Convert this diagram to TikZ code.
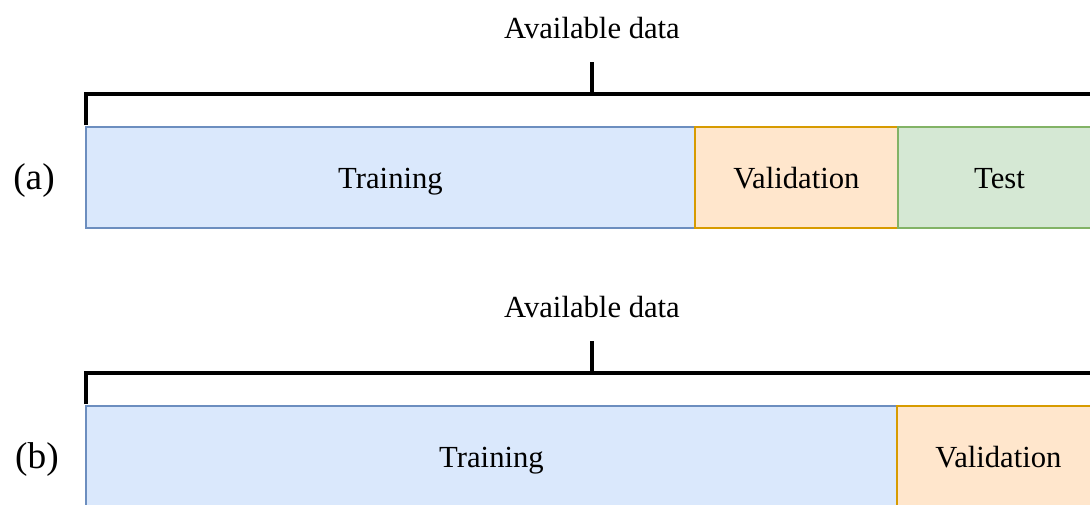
\documentclass[tikz,border=0pt]{standalone}
\usepackage{fontspec}
\setmainfont{Liberation Serif}
\definecolor{bluefill}{HTML}{DAE8FC}
\definecolor{bluedraw}{HTML}{6C8EBF}
\definecolor{orangefill}{HTML}{FFE6CC}
\definecolor{orangedraw}{HTML}{D79B00}
\definecolor{greenfill}{HTML}{D5E8D4}
\definecolor{greendraw}{HTML}{82B366}
\tikzset{
  part/.style={draw, line width=1.5pt, minimum height=75.75pt, inner sep=0pt,
    text height=16pt, text depth=0pt, font=\fontsize{23}{27}\selectfont},
  trainbox/.style={part, fill=bluefill, draw=bluedraw},
  valbox/.style={part, fill=orangefill, draw=orangedraw},
  testbox/.style={part, fill=greenfill, draw=greendraw},
  brace/.style={line width=3pt, black},
  lbl/.style={font=\fontsize{23}{27}\selectfont, inner sep=0pt},
  caselbl/.style={font=\fontsize{28}{33}\selectfont, inner sep=0pt}
}
\begin{document}
\begin{tikzpicture}[x=0.75pt, y=-0.75pt]
\useasboundingbox (0,0) rectangle (1090,504);
\clip (0,0) rectangle (1090,504);
% ---------- (a) ----------
\node[caselbl] (la) at (34,181) {(a)};
\node[trainbox, minimum width=456.75pt] (traina) at (390.5,177.5) {Training};
\node[valbox, minimum width=152.25pt] (vala) at (796.5,177.5) {Validation};
\node[testbox, minimum width=152.25pt] (testa) at (999.5,177.5) {Test};
\node[lbl, anchor=base] (avaa) at (592,38) {Available data};
\coordinate (ba1) at (85.5,125);
\coordinate (ba2) at (85.5,94);
\coordinate (ba3) at (1100,94);
\coordinate (tka1) at (592,94);
\coordinate (tka2) at (592,62);
\draw[brace] (ba1) -- (ba2) -- (ba3);
\draw[brace] (tka1) -- (tka2);
% ---------- (b) ----------
\node[caselbl] (lb) at (37,460) {(b)};
\node[trainbox, minimum width=608.25pt] (trainb) at (491.5,456.5) {Training};
\node[valbox, minimum width=152.25pt] (valb) at (998.5,456.5) {Validation};
\node[lbl, anchor=base] (avab) at (592,317) {Available data};
\coordinate (bb1) at (85.5,404);
\coordinate (bb2) at (85.5,373);
\coordinate (bb3) at (1100,373);
\coordinate (tkb1) at (592,373);
\coordinate (tkb2) at (592,341);
\draw[brace] (bb1) -- (bb2) -- (bb3);
\draw[brace] (tkb1) -- (tkb2);
\end{tikzpicture}
\end{document}
